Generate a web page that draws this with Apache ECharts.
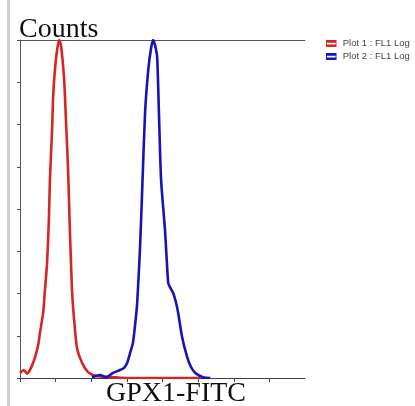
<!DOCTYPE html>
<html><head><meta charset="utf-8">
<script src="https://cdn.jsdelivr.net/npm/echarts@6/dist/echarts.min.js"></script>
<style>html,body{margin:0;padding:0;background:#fff}#c{width:415px;height:406px}</style>
</head><body><div id="c"></div>
<script>
// Series data: [FL1 log position (axis units 0..8), counts (axis units 0..8)]
const plot1Name = 'Plot 1 : FL1 Log';
const plot1 = [[0,0.12],[0.11,0.19],[0.2,0.1],[0.37,0.36],[0.51,0.78],[0.56,1.07],[0.65,1.54],[0.7,2.08],[0.76,2.72],[0.81,3.74],[0.84,4.69],[0.9,5.87],[0.93,6.65],[0.98,7.29],[1.04,7.76],[1.1,8.0],[1.15,7.88],[1.24,7.05],[1.29,6.1],[1.35,4.92],[1.4,3.5],[1.46,2.08],[1.52,1.37],[1.6,0.71],[1.74,0.36],[1.91,0.14],[2.11,0.05],[2.53,0.02],[3.0,0],[5.06,0]];
const plot2Name = 'Plot 2 : FL1 Log';
const plot2 = [[2.02,0.02],[2.25,0.07],[2.42,0.02],[2.61,0.12],[2.81,0.19],[2.92,0.24],[3.01,0.36],[3.09,0.59],[3.17,0.83],[3.23,1.25],[3.29,1.78],[3.37,3.1],[3.43,4.45],[3.51,6.27],[3.6,7.29],[3.68,7.81],[3.74,8.0],[3.79,7.88],[3.85,7.6],[3.9,6.27],[3.96,4.69],[4.07,3.5],[4.16,2.25],[4.21,2.15],[4.3,2.01],[4.38,1.78],[4.44,1.54],[4.55,0.97],[4.69,0.5],[4.8,0.26],[4.92,0.12],[5.14,0.02],[5.34,0]];
const xTicks = [0,1,2,3,4,5,6,7];
const yTicks = [0,1,2,3,4,5,6,7,8];
const xTitle = 'GPX1-FITC';
const yTitle = 'Counts';

const chart = echarts.init(document.getElementById('c'), null, {renderer:'canvas'});
const swatch = 'path://M0,0H12V8H0Z M1,3V5H11V3Z';
chart.setOption({
  animation:false,
  backgroundColor:'#fff',
  title:{text:yTitle,left:19,top:16,padding:0,textStyle:{fontFamily:'Liberation Serif',fontSize:28,fontWeight:'normal',color:'#111'}},
  legend:{
    orient:'vertical',left:326,top:38,itemWidth:11,itemHeight:7,itemGap:2,padding:0,
    textStyle:{fontFamily:'Liberation Sans',fontSize:9.5,lineHeight:11,color:'#444',padding:[0,0,0,1]},
    data:[{name:plot1Name,icon:swatch},{name:plot2Name,icon:swatch}]
  },
  graphic:[
    {type:'rect',shape:{x:7,y:0,width:3,height:406},style:{fill:'#cfcfcf'},silent:true},
    {type:'text',x:176,y:394,style:{text:xTitle,fontFamily:'Liberation Serif',fontSize:28,fill:'#111',align:'center',verticalAlign:'middle'},silent:true}
  ],
  grid:{left:20,right:110,top:40,bottom:28},
  xAxis:[{
    type:'value',min:0,max:8,interval:1,
    axisLine:{show:true,lineStyle:{color:'#3a3a70',width:1}},
    axisTick:{show:true,length:4,customValues:xTicks,lineStyle:{color:'#444'}},
    axisLabel:{show:false},splitLine:{show:false}
  },{
    type:'value',min:0,max:8,position:'top',
    axisLine:{show:true,onZero:false,lineStyle:{color:'#555',width:1}},
    axisTick:{show:false},axisLabel:{show:false},splitLine:{show:false}
  }],
  yAxis:{
    type:'value',min:0,max:8,interval:1,
    axisLine:{show:true,lineStyle:{color:'#555',width:1}},
    axisTick:{show:true,length:3,customValues:yTicks,lineStyle:{color:'#555'}},
    axisLabel:{show:false},splitLine:{show:false}
  },
  series:[
    {name:plot1Name,type:'line',data:plot1,showSymbol:false,smooth:0.2,
     lineStyle:{color:'#d82424',width:2.6},itemStyle:{color:'#d82424',borderColor:'#a01010'}},
    {name:plot2Name,type:'line',data:plot2,showSymbol:false,smooth:0.2,
     lineStyle:{color:'#1414b8',width:2.6},itemStyle:{color:'#1414b8',borderColor:'#000060'}}
  ]
});
</script></body></html>
